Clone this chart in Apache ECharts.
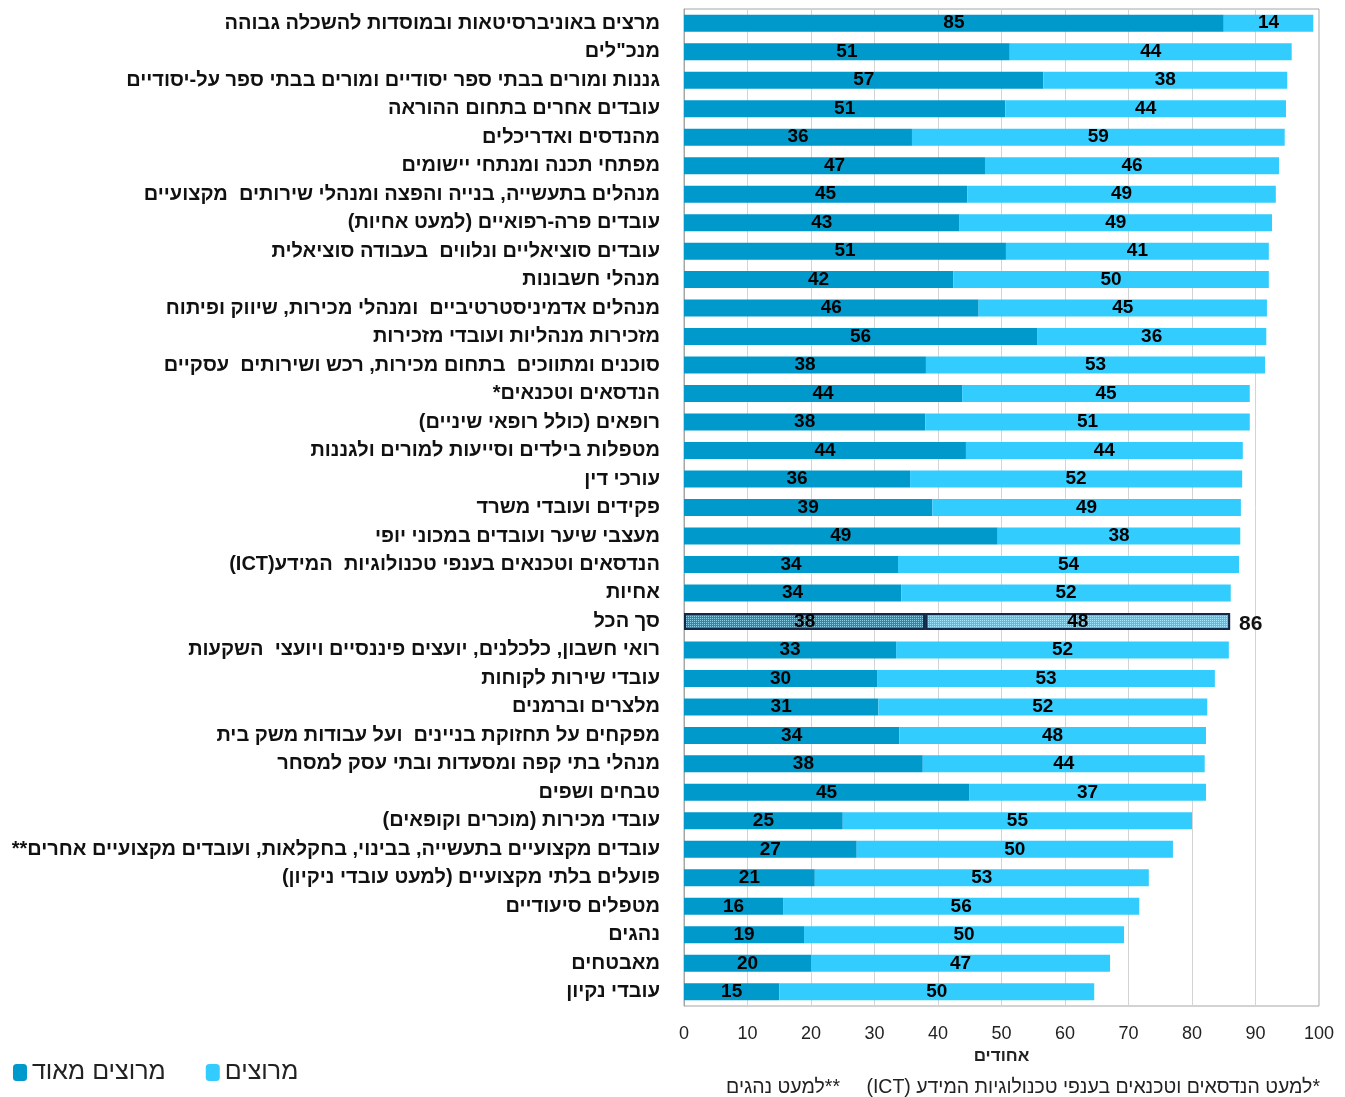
<!DOCTYPE html>
<html>
<head>
<meta charset="utf-8">
<script src="https://cdn.jsdelivr.net/npm/echarts@6/dist/echarts.min.js"></script>
<style>
html,body{margin:0;padding:0;background:#fff;}
#chart{width:1345px;height:1097px;direction:rtl;}
</style>
</head>
<body>
<div id="chart" dir="rtl"></div>
<script>
const categories = [
  'מרצים באוניברסיטאות ובמוסדות להשכלה גבוהה',
  'מנכ"לים',
  'גננות ומורים בבתי ספר יסודיים ומורים בבתי ספר על-יסודיים',
  'עובדים אחרים בתחום ההוראה',
  'מהנדסים ואדריכלים',
  'מפתחי תכנה ומנתחי יישומים',
  'מנהלים בתעשייה, בנייה והפצה ומנהלי שירותים  מקצועיים',
  'עובדים פרה-רפואיים (למעט אחיות)',
  'עובדים סוציאליים ונלווים  בעבודה סוציאלית',
  'מנהלי חשבונות',
  'מנהלים אדמיניסטרטיביים  ומנהלי מכירות, שיווק ופיתוח',
  'מזכירות מנהליות ועובדי מזכירות',
  'סוכנים ומתווכים  בתחום מכירות, רכש ושירותים  עסקיים',
  'הנדסאים וטכנאים*',
  'רופאים (כולל רופאי שיניים)',
  'מטפלות בילדים וסייעות למורים ולגננות',
  'עורכי דין',
  'פקידים ועובדי משרד',
  'מעצבי שיער ועובדים במכוני יופי',
  'הנדסאים וטכנאים בענפי טכנולוגיות  המידע(ICT)',
  'אחיות',
  'סך הכל',
  'רואי חשבון, כלכלנים, יועצים פיננסיים ויועצי  השקעות',
  'עובדי שירות לקוחות',
  'מלצרים וברמנים',
  'מפקחים על תחזוקת בניינים  ועל עבודות משק בית',
  'מנהלי בתי קפה ומסעדות ובתי עסק למסחר',
  'טבחים ושפים',
  'עובדי מכירות (מוכרים וקופאים)',
  'עובדים מקצועיים בתעשייה, בבינוי, בחקלאות, ועובדים מקצועיים אחרים**',
  'פועלים בלתי מקצועיים (למעט עובדי ניקיון)',
  'מטפלים סיעודיים',
  'נהגים',
  'מאבטחים',
  'עובדי נקיון'
];
const verySatisfied = [85.0,51.3,56.6,50.6,35.9,47.4,44.6,43.4,50.7,42.4,46.4,55.6,38.1,43.8,38.0,44.4,35.6,39.1,49.4,33.7,34.2,38.0,33.4,30.4,30.6,33.9,37.6,44.9,25.0,27.2,20.6,15.6,18.9,20.0,15.0];
const satisfied    = [14.1,44.4,38.4,44.2,58.7,46.3,48.6,49.2,41.4,49.7,45.4,36.1,53.4,45.3,51.1,43.6,52.3,48.6,38.2,53.7,51.9,48.0,52.4,53.2,51.8,48.3,44.4,37.3,55.0,49.8,52.6,56.1,50.4,47.1,49.6];
const totalCategory = 'סך הכל';
const totalLabel = 86;
const seriesNames = ['מרוצים מאוד', 'מרוצים'];
const xTicks = {min: 0, max: 100, interval: 10};
const xAxisName = 'אחודים';
const footnote1 = '*למעט הנדסאים וטכנאים בענפי טכנולוגיות המידע (ICT)';
const footnote2 = '**למעט נהגים';

const DARK = '#0099CC', LIGHT = '#33CCFF';
const totalIdx = categories.indexOf(totalCategory);
const labelFont = "'Liberation Sans', Arial, sans-serif";

function decalFor(){
  return {symbol:'rect', symbolSize:1, color:'rgba(255,255,255,0.55)', dashArrayX:[1,1], dashArrayY:[1,1], rotation:0};
}
function buildData(arr){
  return arr.map((v,i)=>{
    if(i===totalIdx){
      return {value:v, itemStyle:{borderColor:'#14294a', borderWidth:2, decal:decalFor()}};
    }
    return v;
  });
}
const barLabel = {
  show:true, position:'inside', color:'#000', fontWeight:'bold', fontSize:19, fontFamily:labelFont,
  formatter: p => Math.round(p.value)
};

const chart = echarts.init(document.getElementById('chart'), null, {renderer:'canvas'});
chart.setOption({
  animation:false,
  grid:{left:684, right:26, top:9, bottom:91, show:true, borderColor:'#a6a6a6', borderWidth:1, containLabel:false},
  legend:{
    data:seriesNames, left:8, top:1055, itemWidth:14, itemHeight:17, itemGap:40,
    textStyle:{fontSize:25, color:'#222', fontFamily:labelFont}, selectedMode:false
  },
  xAxis:{
    type:'value', min:xTicks.min, max:xTicks.max, interval:xTicks.interval,
    axisLine:{show:false}, axisTick:{show:false},
    splitLine:{show:true, lineStyle:{color:'#d4d4d4', width:1}},
    axisLabel:{fontSize:18, color:'#222', margin:19, fontFamily:labelFont},
    name:xAxisName, nameLocation:'middle', nameGap:41,
    nameTextStyle:{fontSize:17, fontWeight:'bold', color:'#222', fontFamily:labelFont}
  },
  yAxis:{
    type:'category', data:categories, inverse:true,
    axisLine:{show:true, lineStyle:{color:'#a6a6a6'}}, axisTick:{show:false},
    axisLabel:{fontSize:20, fontWeight:'bold', color:'#111', margin:24, fontFamily:labelFont, interval:0}
  },
  series:[
    {name:seriesNames[0], type:'bar', stack:'a', barWidth:17, data:buildData(verySatisfied),
     itemStyle:{color:DARK}, label:barLabel},
    {name:seriesNames[1], type:'bar', stack:'a', barWidth:17, data:buildData(satisfied),
     itemStyle:{color:LIGHT}, label:barLabel},
    {name:'total', type:'bar', stack:'a', barWidth:17,
     data:categories.map((c,i)=> i===totalIdx ? 0 : '-'),
     itemStyle:{color:'transparent'},
     label:{show:true, position:'right', distance:9, color:'#111', fontWeight:'bold', fontSize:21, fontFamily:labelFont,
            offset:[0,3], formatter:()=>totalLabel}}
  ],
  graphic:[
    {type:'text', right:25, top:1078, style:{text:footnote1, fill:'#222', font:"19.5px "+labelFont, textAlign:'right'}},
    {type:'text', right:505, top:1078, style:{text:footnote2, fill:'#222', font:"19.5px "+labelFont, textAlign:'right'}}
  ]
});
</script>
</body>
</html>
